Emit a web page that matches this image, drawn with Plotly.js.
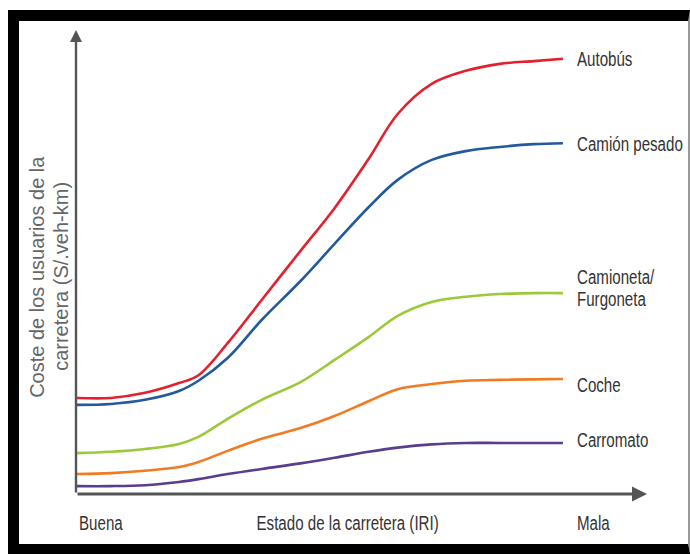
<!DOCTYPE html>
<html>
<head>
<meta charset="utf-8">
<script src="https://cdn.plot.ly/plotly-3.0.1.min.js"></script>
<style>
  html, body { margin: 0; padding: 0; background: #fff; }
  #wrap { position: relative; width: 690px; height: 554px; overflow: hidden; }
  #chart { position: absolute; left: 0; top: 0; width: 690px; height: 554px; }
  #frame { position: absolute; left: 8px; top: 10px; width: 669px; height: 523px;
           border-left: 11px solid #000; border-top: 11px solid #000; border-bottom: 10px solid #000;
           border-right: 2px solid #999; pointer-events: none; }
</style>
</head>
<body>
<div id="wrap">
  <div id="chart"></div>
  <div id="frame"></div>
</div>
<script>
// Road condition (0 = Buena ... 10 = Mala), relative units
const xLevel      = [0, 0.7, 1.4, 2.1, 2.5, 3.1, 3.8, 4.6, 5.3, 6.0, 6.6, 7.3, 8.0, 8.7, 9.4, 10];
// User cost (relative scale, axis 0..100)
const autobus      = [20.7, 20.7, 21.8, 23.9, 25.6, 32.5, 41.8, 52.4, 61.6, 72.2, 81.9, 88.4, 91.2, 92.7, 93.3, 93.8];
const camionPesado = [19.2, 19.4, 20.3, 22.2, 24.4, 29.3, 37.5, 45.9, 53.9, 61.8, 67.7, 72.0, 73.9, 74.8, 75.4, 75.6];
const camioneta    = [8.8, 9.1, 9.7, 10.8, 12.3, 16.2, 20.3, 24.1, 28.9, 33.8, 38.4, 41.4, 42.5, 43.1, 43.3, 43.3];
const coche        = [4.3, 4.5, 5.0, 5.8, 6.9, 9.3, 11.9, 14.2, 16.8, 20.0, 22.6, 23.7, 24.4, 24.6, 24.7, 24.8];
const carromato    = [1.7, 1.7, 1.9, 2.6, 3.2, 4.3, 5.4, 6.6, 7.8, 9.1, 10.0, 10.7, 11.0, 11.0, 11.0, 11.0];

const seriesNames = ['Autobús', 'Camión pesado', 'Camioneta/<br>Furgoneta', 'Coche', 'Carromato'];
const xLabels = ['Buena', 'Estado de la carretera (IRI)', 'Mala'];
const yTitleLines = ['Coste de los usuarios de la', 'carretera (S/.veh-km)'];

const seriesValues = [autobus, camionPesado, camioneta, coche, carromato];
const colors = ['#e5202e', '#22599f', '#9bc93a', '#f37a21', '#5a3d8f'];
const labelShift = [0, 0, 6, -6, 3];
const lineGap = 22;

const labelFont = '"Liberation Sans", Arial, sans-serif';
const labelSize = 21;
const squeeze = 0.72;
const textColor = '#333';
const xMax = 11.73;

const traces = seriesValues.map((vals, i) => ({
  type: 'scatter', mode: 'lines', x: xLevel, y: vals, name: seriesNames[i],
  line: { color: colors[i], width: 2.6, shape: 'spline', smoothing: 1 },
  hoverinfo: 'skip', showlegend: false
}));

const annotations = [];
// axis arrows
annotations.push({ x: xMax, y: 0, ax: -0.02, ay: 0, xref: 'x', yref: 'y', axref: 'x', ayref: 'y',
  text: '', showarrow: true, arrowhead: 2, arrowsize: 1, arrowwidth: 3, arrowcolor: '#555', standoff: 0 });
annotations.push({ x: -0.02, y: 100, ax: -0.02, ay: 0, xref: 'x', yref: 'y', axref: 'x', ayref: 'y',
  text: '', showarrow: true, arrowhead: 2, arrowsize: 1, arrowwidth: 2.4, arrowcolor: '#555', standoff: 0 });

const condensed = []; // [annotation index, transform origin]
// series end labels (multi-line names split so the line gap matches)
seriesValues.forEach((vals, i) => {
  const lines = seriesNames[i].split('<br>');
  lines.forEach((ln, k) => {
    const off = ((lines.length - 1) / 2 - k) * lineGap;
    condensed.push([annotations.length, 'left center']);
    annotations.push({ x: xLevel[xLevel.length - 1], y: vals[vals.length - 1], xref: 'x', yref: 'y',
      text: ln, showarrow: false, xanchor: 'left', yanchor: 'middle', xshift: 12, yshift: labelShift[i] + off,
      align: 'left', font: { family: labelFont, size: labelSize, color: textColor } });
  });
});

// x-axis labels
condensed.push([annotations.length, 'left center']);
annotations.push({ x: 0, y: 0, xref: 'x', yref: 'paper', text: xLabels[0], showarrow: false,
  xanchor: 'left', yanchor: 'middle', yshift: -28, font: { family: labelFont, size: labelSize, color: textColor } });
condensed.push([annotations.length, 'center center']);
annotations.push({ x: 5.56, y: 0, xref: 'x', yref: 'paper', text: xLabels[1], showarrow: false,
  xanchor: 'center', yanchor: 'middle', yshift: -28, font: { family: labelFont, size: labelSize, color: textColor } });
condensed.push([annotations.length, 'left center']);
annotations.push({ x: 10, y: 0, xref: 'x', yref: 'paper', text: xLabels[2], showarrow: false,
  xanchor: 'left', yanchor: 'middle', xshift: 12, yshift: -28, font: { family: labelFont, size: labelSize, color: textColor } });

// y-axis title (two lines)
[ -39, -15 ].forEach((xs, i) => {
  annotations.push({ x: 0, y: 0.468, xref: 'paper', yref: 'paper', text: yTitleLines[i], showarrow: false,
    textangle: -90, xanchor: 'center', yanchor: 'middle', xshift: xs,
    font: { family: '"Liberation Sans", Arial, sans-serif', size: 20, color: '#666' } });
});

const axisCommon = { showgrid: false, zeroline: false, showticklabels: false, showline: false, ticks: '', fixedrange: true };

const layout = {
  width: 690, height: 554,
  margin: { l: 76, r: 43, t: 30, b: 60 },
  paper_bgcolor: '#fff', plot_bgcolor: '#fff',
  xaxis: Object.assign({ range: [-0.02, xMax] }, axisCommon),
  yaxis: Object.assign({ range: [0, 100] }, axisCommon),
  annotations: annotations,
  showlegend: false
};

Plotly.newPlot('chart', traces, layout, { displayModeBar: false, staticPlot: true }).then(gd => {
  // narrow the label lettering like the condensed face of the original
  condensed.forEach(([idx, origin]) => {
    const t = gd.querySelector('g.annotation[data-index="' + idx + '"] text');
    if (t) {
      t.style.transformBox = 'fill-box';
      t.style.transformOrigin = origin;
      t.style.transform = 'scaleX(' + squeeze + ')';
    }
  });
});
</script>
</body>
</html>
